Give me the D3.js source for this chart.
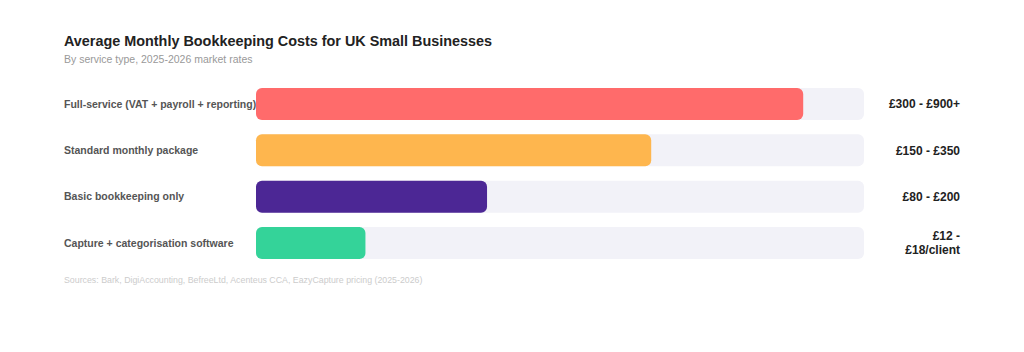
<!DOCTYPE html>
<html>
<head>
<meta charset="utf-8">
<script src="https://cdn.jsdelivr.net/npm/d3@7/dist/d3.min.js"></script>
<style>
  html, body { margin: 0; padding: 0; background: #ffffff; }
  svg { display: block; font-family: "Liberation Sans", Arial, Helvetica, sans-serif; }
</style>
</head>
<body>
<svg id="chart" width="1024" height="352"></svg>
<script>
const categories = [
  "Full-service (VAT + payroll + reporting)",
  "Standard monthly package",
  "Basic bookkeeping only",
  "Capture + categorisation software"
];
const values = [90, 65, 38, 18];
const valueLabels = ["£300 - £900+", "£150 - £350", "£80 - £200", "£12 - £18/client"];
const colors = ["#ff6b6b", "#feb64e", "#4c2795", "#34d399"];
const titleText = "Average Monthly Bookkeeping Costs for UK Small Businesses";
const subtitleText = "By service type, 2025-2026 market rates";
const sourceText = "Sources: Bark, DigiAccounting, BefreeLtd, Acenteus CCA, EazyCapture pricing (2025-2026)";

const svg = d3.select("#chart");
const left = 64, trackX = 256, trackW = 608, valueRight = 960;

svg.append("text").attr("x", left).attr("y", 46)
  .attr("font-size", 14.4).attr("font-weight", 700).attr("fill", "#222")
  .text(titleText);
svg.append("text").attr("x", left).attr("y", 63)
  .attr("font-size", 10.5).attr("fill", "#999")
  .text(subtitleText);

const x = d3.scaleLinear().domain([0, 100]).range([0, trackW]);
const y = d3.scaleBand().domain(categories).range([88, 259]).paddingInner(0.309).paddingOuter(0);

const rows = svg.append("g").selectAll("g").data(categories).join("g")
  .attr("transform", d => `translate(0,${y(d)})`);
const bh = y.bandwidth();

rows.append("text").attr("x", left).attr("y", bh / 2).attr("dy", "0.35em")
  .attr("font-size", 10.5).attr("font-weight", 700).attr("fill", "#555")
  .text(d => d);

rows.append("rect").attr("x", trackX).attr("y", 0).attr("width", trackW).attr("height", bh)
  .attr("rx", 6).attr("fill", "#f2f2f8");

rows.append("rect").attr("x", trackX).attr("y", 0)
  .attr("width", (d, i) => x(values[i])).attr("height", bh)
  .attr("rx", 6).attr("fill", (d, i) => colors[i]);

const maxW = 84;
rows.each(function(d, i) {
  const g = d3.select(this);
  const t = g.append("text").attr("text-anchor", "end")
    .attr("font-size", 12).attr("font-weight", 700).attr("fill", "#222");
  const words = valueLabels[i].split(" ");
  let lines = [], cur = "";
  const probe = g.append("text").attr("font-size", 12).attr("font-weight", 700);
  words.forEach(w => {
    const test = cur ? cur + " " + w : w;
    probe.text(test);
    if (probe.node().getComputedTextLength() > maxW && cur) { lines.push(cur); cur = w; }
    else cur = test;
  });
  lines.push(cur);
  probe.remove();
  const lh = 13.5;
  lines.forEach((ln, k) => {
    t.append("tspan").attr("x", valueRight)
      .attr("y", bh / 2 + (k - (lines.length - 1) / 2) * lh)
      .attr("dy", "0.35em").text(ln);
  });
});

svg.append("text").attr("x", left).attr("y", 283)
  .attr("font-size", 8.8).attr("fill", "#cccccc")
  .text(sourceText);
</script>
</body>
</html>
